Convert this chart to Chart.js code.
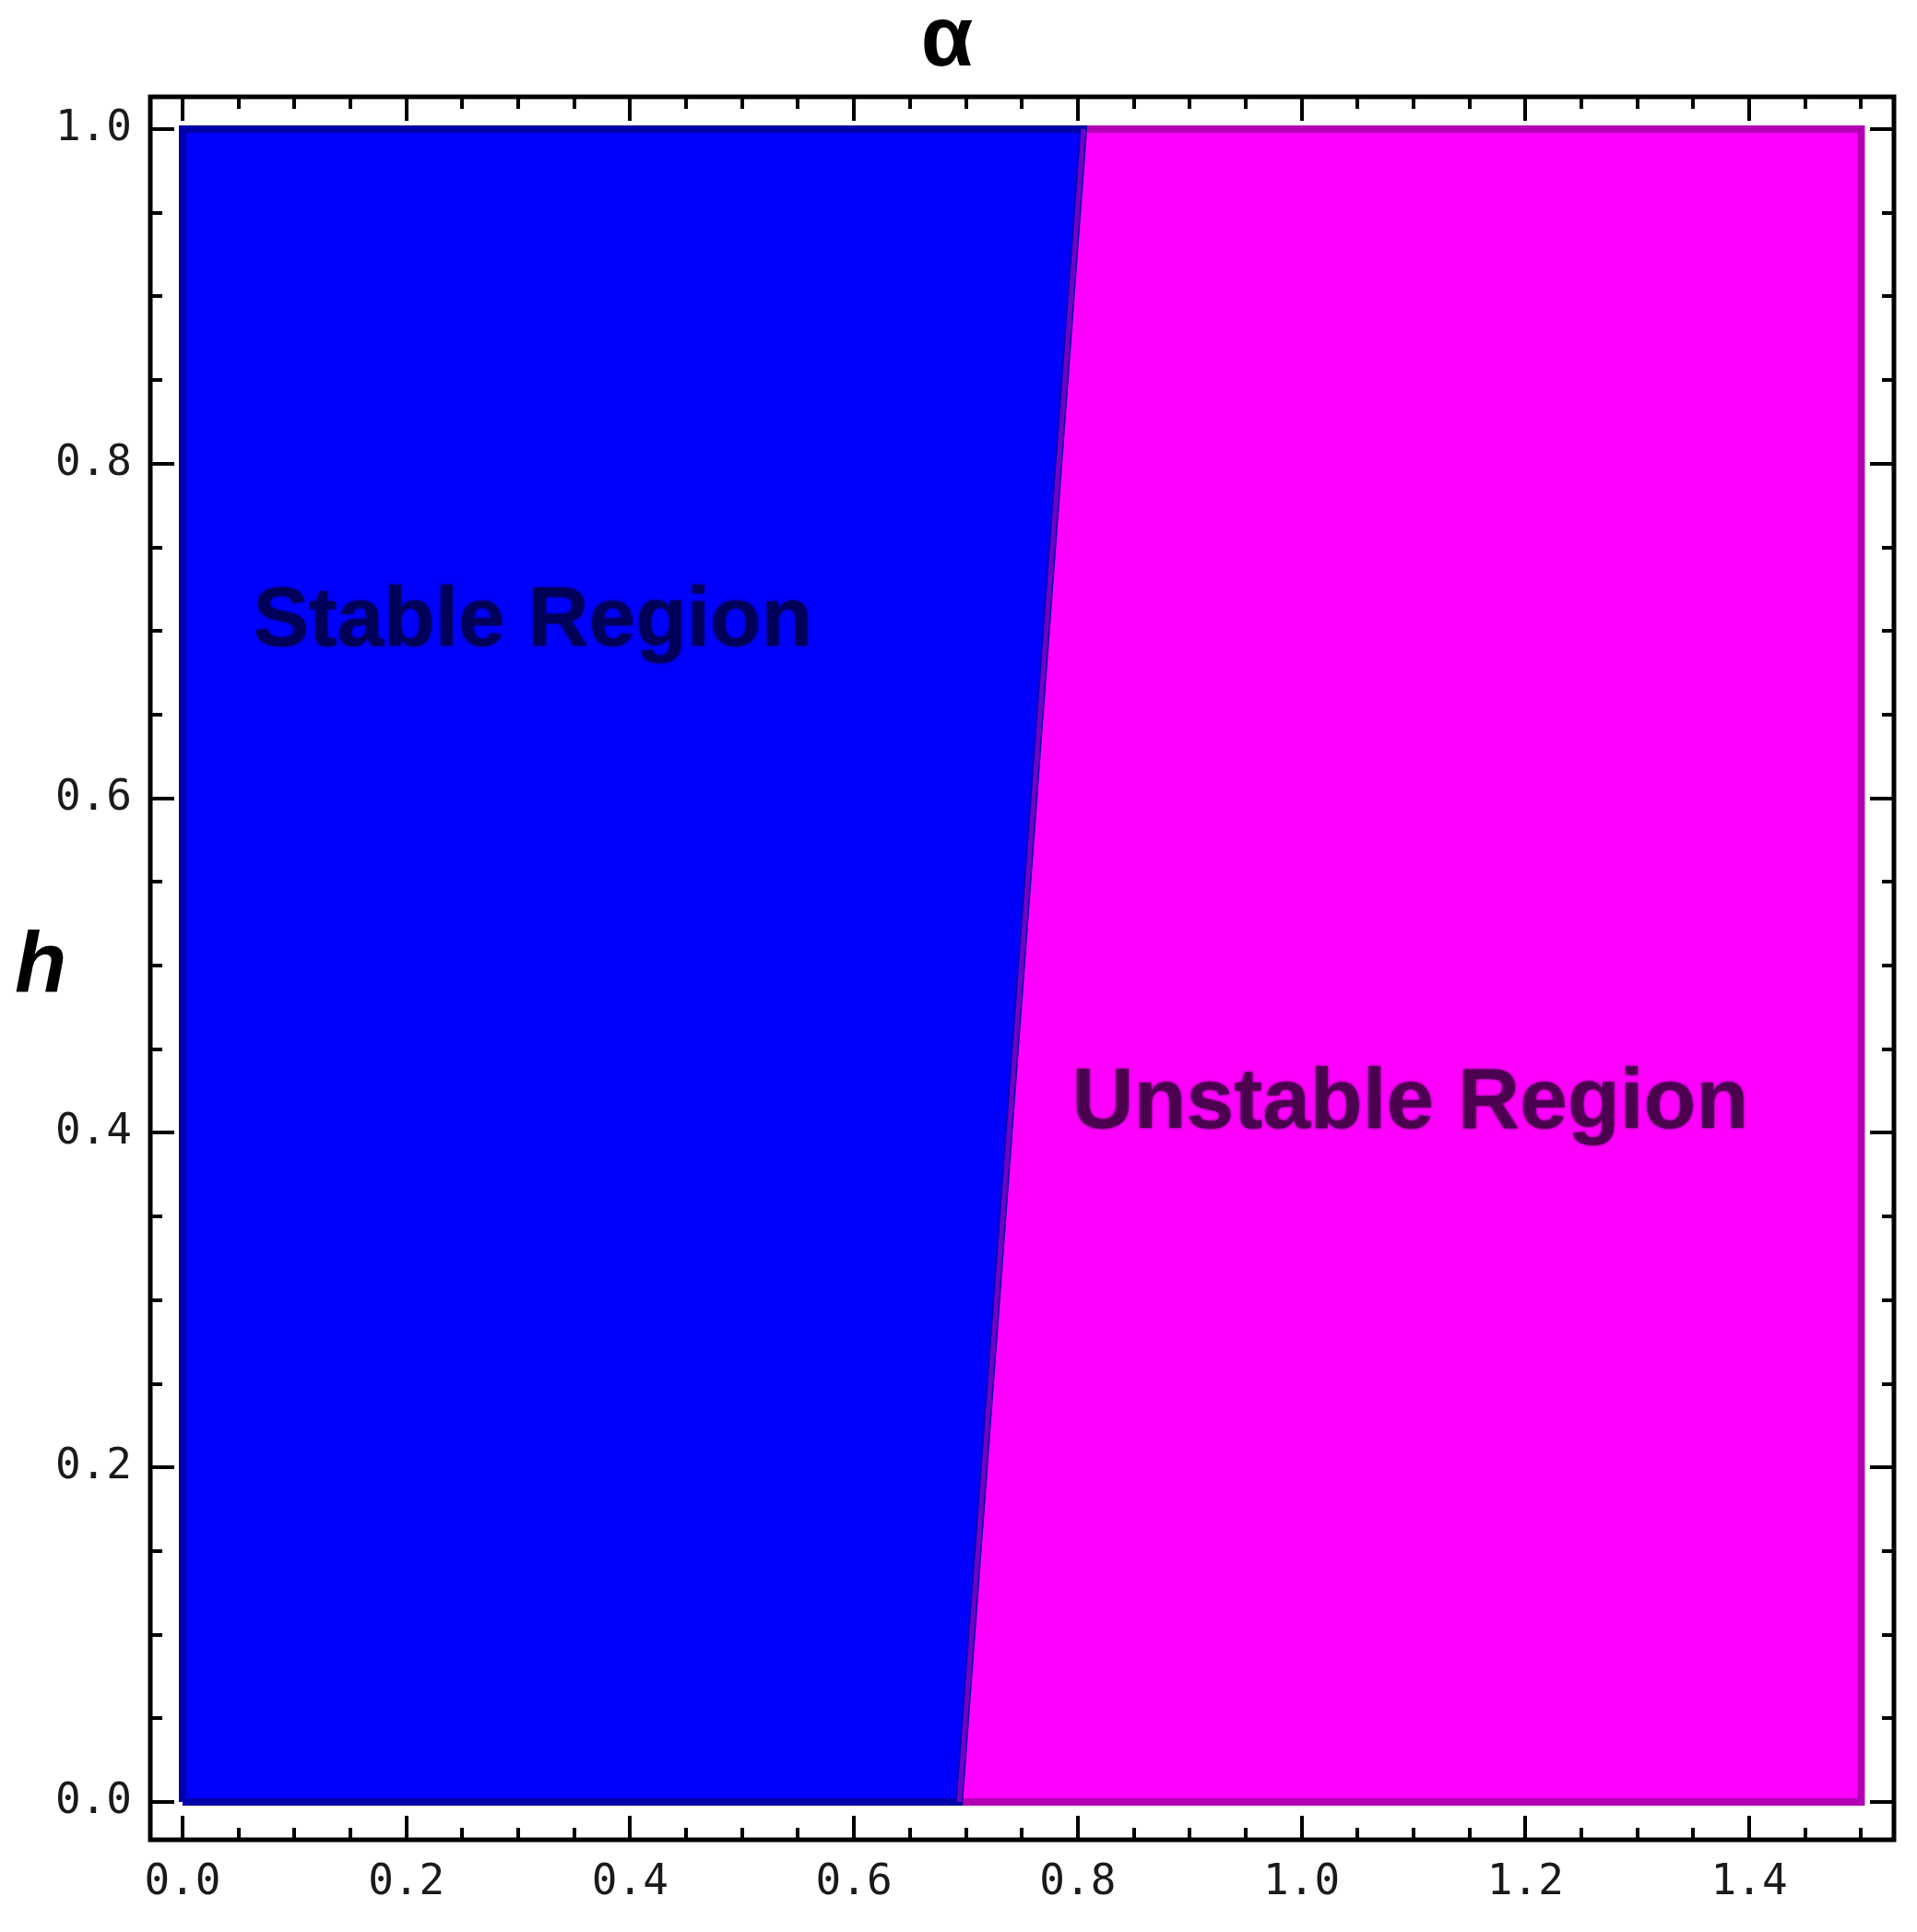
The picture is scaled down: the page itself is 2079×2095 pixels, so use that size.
<!DOCTYPE html>
<html><head><meta charset="utf-8">
<script src="https://cdn.jsdelivr.net/npm/chart.js@4/dist/chart.umd.min.js"></script>
<style>html,body{margin:0;padding:0;background:#fff}#wrap{width:2079px;height:2095px;position:relative;background:#fff}</style>
</head><body><div id="wrap"><canvas id="c"></canvas></div>
<script>
// ---- data ----
const alphaRange = [0, 1.5];
const hRange = [0, 1];
const boundaryAlpha = [0.694, 0.805];
const boundaryH = [0, 1];
const xTickValues = [0, 0.2, 0.4, 0.6, 0.8, 1.0, 1.2, 1.4];
const yTickValues = [0, 0.2, 0.4, 0.6, 0.8, 1.0];
const regionLabels = ['Stable Region', 'Unstable Region'];
const regionLabelAlpha = [0.313, 1.097];
const regionLabelH = [0.705, 0.417];
const xTitle = 'α';
const yTitle = 'h';

// ---- shapes built from the data ----
const stablePoly = [
  {x: alphaRange[0], y: hRange[0]},
  {x: alphaRange[0], y: hRange[1]},
  {x: boundaryAlpha[1], y: boundaryH[1]},
  {x: boundaryAlpha[0], y: boundaryH[0]},
  {x: alphaRange[0], y: hRange[0]}
];
const unstablePoly = [
  {x: boundaryAlpha[0], y: boundaryH[0]},
  {x: boundaryAlpha[1], y: boundaryH[1]},
  {x: alphaRange[1], y: hRange[1]},
  {x: alphaRange[1], y: hRange[0]},
  {x: boundaryAlpha[0], y: boundaryH[0]}
];
const boundaryLine = boundaryAlpha.map((a, i) => ({x: a, y: boundaryH[i]}));

function withMinors(vals, lo, hi) {
  const out = [];
  const step = (vals[1] - vals[0]) / 4;
  vals.forEach(v => {
    out.push({v, major: true});
    for (let k = 1; k < 4; k++) out.push({v: v + k * step, major: false});
  });
  return out.filter(t => t.v >= lo - 1e-9 && t.v <= hi + 1e-9);
}

const labelColors = ['#000058', '#4c0050'];
const labelSizes = [91, 93];

const decoPlugin = {
  id: 'deco',
  afterDatasetsDraw(chart) {
    const {ctx, chartArea: a, scales: {x, y}} = chart;
    ctx.save();
    // region labels
    regionLabels.forEach((t, i) => {
      ctx.font = 'bold ' + labelSizes[i] + 'px "Liberation Sans", Arial, sans-serif';
      ctx.fillStyle = labelColors[i];
      ctx.shadowColor = labelColors[i];
      ctx.shadowBlur = 3;
      ctx.textAlign = 'center';
      ctx.textBaseline = 'middle';
      ctx.fillText(t, x.getPixelForValue(regionLabelAlpha[i]), y.getPixelForValue(regionLabelH[i]));
    });
    ctx.restore();
  },
  afterDraw(chart) {
    const {ctx, chartArea: a, scales: {x, y}} = chart;
    ctx.save();
    // y title (upright)
    ctx.font = 'italic bold 92px "Liberation Sans", Arial, sans-serif';
    ctx.fillStyle = '#000';
    ctx.textAlign = 'center';
    ctx.textBaseline = 'middle';
    ctx.fillText(yTitle, a.left - 119, (a.top + a.bottom) / 2);
    // ticks, inward, on all four sides
    ctx.strokeStyle = '#000';
    ctx.lineWidth = 4;
    const majorLen = 26, minorLen = 13;
    ctx.beginPath();
    withMinors(xTickValues, x.min, x.max).forEach(t => {
      const px = Math.round(x.getPixelForValue(t.v));
      const len = t.major ? majorLen : minorLen;
      ctx.moveTo(px, a.bottom); ctx.lineTo(px, a.bottom - len);
      ctx.moveTo(px, a.top); ctx.lineTo(px, a.top + len);
    });
    withMinors(yTickValues, y.min, y.max).forEach(t => {
      const py = Math.round(y.getPixelForValue(t.v));
      const len = t.major ? majorLen : minorLen;
      ctx.moveTo(a.left, py); ctx.lineTo(a.left + len, py);
      ctx.moveTo(a.right, py); ctx.lineTo(a.right - len, py);
    });
    ctx.stroke();
    // frame
    ctx.lineWidth = 5;
    ctx.strokeRect(a.left, a.top, a.right - a.left, a.bottom - a.top);
    ctx.restore();
  }
};

const tickFont = {family: '"DejaVu Sans Mono", "Liberation Mono", monospace', size: 46};

new Chart(document.getElementById('c'), {
  type: 'scatter',
  data: {
    datasets: [
      {label: 'Boundary', data: boundaryLine, showLine: true, fill: false,
       borderColor: '#7000c8', borderWidth: 5, pointRadius: 0, tension: 0, order: 1},
      {label: regionLabels[0], data: stablePoly, showLine: true, fill: 'shape',
       backgroundColor: '#0000ff', borderColor: '#0000a8', borderWidth: 8,
       pointRadius: 0, tension: 0, order: 2},
      {label: regionLabels[1], data: unstablePoly, showLine: true, fill: 'shape',
       backgroundColor: '#ff00ff', borderColor: '#b400b4', borderWidth: 8,
       pointRadius: 0, tension: 0, order: 3}
    ]
  },
  options: {
    responsive: true,
    maintainAspectRatio: false,
    animation: false,
    layout: {padding: {left: 0, right: 25, top: 0, bottom: 0}},
    plugins: {
      legend: {display: false},
      tooltip: {enabled: false},
      title: {
        display: true, text: xTitle, color: '#000',
        font: {family: '"Liberation Sans", Arial, sans-serif', size: 92, weight: 'bold', lineHeight: 1},
        padding: {top: 0, bottom: 13}
      }
    },
    scales: {
      x: {
        type: 'linear', position: 'bottom', min: -0.0288, max: 1.5293,
        grid: {display: false, drawTicks: false}, border: {display: false},
        ticks: {padding: 19, font: tickFont, color: '#1a1a1a', maxRotation: 0, autoSkip: false,
                callback: v => Number(v).toFixed(1)},
        afterBuildTicks: s => { s.ticks = xTickValues.map(v => ({value: v})); },
        afterFit: s => { s.height = 100; }
      },
      y: {
        type: 'linear', position: 'left', min: -0.0226, max: 1.0193,
        grid: {display: false, drawTicks: false}, border: {display: false},
        ticks: {padding: 20, font: tickFont, color: '#1a1a1a', autoSkip: false,
                callback: v => Number(v).toFixed(1)},
        afterBuildTicks: s => { s.ticks = yTickValues.map(v => ({value: v})); },
        afterFit: s => { s.width = 163; }
      }
    }
  },
  plugins: [decoPlugin]
});
</script>
</body></html>
